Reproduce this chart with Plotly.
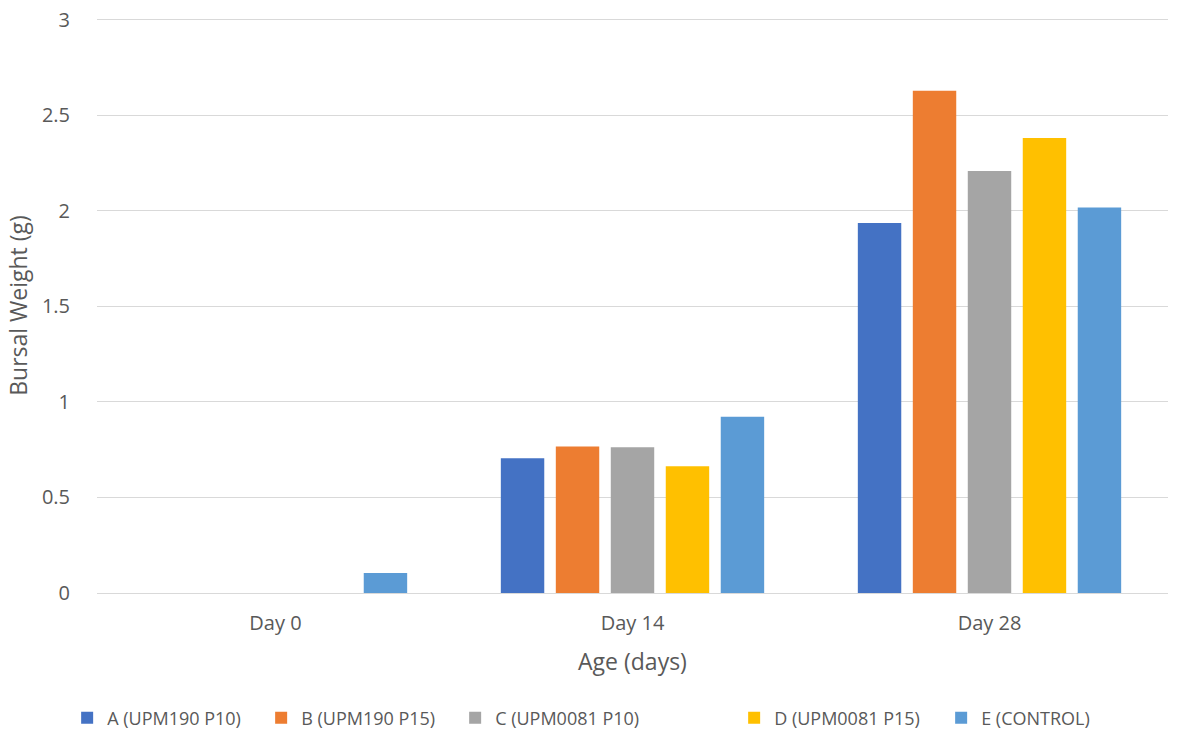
import plotly.graph_objects as go

categories = ["Day 0", "Day 14", "Day 28"]
series_names = ["A (UPM190 P10)", "B (UPM190 P15)", "C (UPM0081 P10)", "D (UPM0081 P15)", "E (CONTROL)"]
a_vals = [0, 0.705, 1.935]
b_vals = [0, 0.767, 2.628]
c_vals = [0, 0.762, 2.207]
d_vals = [0, 0.663, 2.380]
e_vals = [0.104, 0.922, 2.017]
colors = ["#4472C4", "#ED7D31", "#A5A5A5", "#FFC000", "#5B9BD5"]
y_ticks = [0, 0.5, 1, 1.5, 2, 2.5, 3]
y_tick_labels = ["0", "0.5", "1", "1.5", "2", "2.5", "3"]
legend_widths = [149, 149, 234, 162, 130]

all_vals = [a_vals, b_vals, c_vals, d_vals, e_vals]

fig = go.Figure()
for name, vals, col, lw in zip(series_names, all_vals, colors, legend_widths):
    fig.add_trace(go.Bar(x=categories, y=vals, name=name, legendwidth=lw,
                         marker=dict(color=col, line=dict(width=0))))

font_family = "Open Sans, Noto Sans, sans-serif"
grey = "#595959"

fig.update_layout(
    width=1178, height=733,
    paper_bgcolor="white", plot_bgcolor="white",
    margin=dict(l=97, r=10, t=18, b=140),
    barmode="group", bargap=0.23, bargroupgap=0.21,
    font=dict(family=font_family, color=grey, size=18),
    showlegend=True,
    legend=dict(orientation="h", xref="container", x=0.057, xanchor="left",
                yref="container", y=0.0205, yanchor="middle",
                font=dict(size=18, color=grey), itemwidth=30, traceorder="normal"),
    xaxis=dict(
        showgrid=False, showline=True, linecolor="#d9d9d9", linewidth=1,
        ticks="outside", ticklen=12, tickcolor="rgba(0,0,0,0)",
        tickfont=dict(size=20, color=grey), automargin="height",
        title=dict(text="Age (days)", font=dict(size=23, color=grey), standoff=18),
    ),
    yaxis=dict(
        range=[0, 3.008], tickvals=y_ticks, ticktext=y_tick_labels,
        showgrid=True, gridcolor="#d9d9d9", gridwidth=1, zeroline=False,
        ticks="outside", ticklen=22, tickcolor="rgba(0,0,0,0)",
        tickfont=dict(size=20, color=grey), automargin="width",
        title=dict(text="Bursal Weight (g)", font=dict(size=23, color=grey), standoff=7),
    ),
)

fig.write_html("out.html", config={"displayModeBar": False},
               post_script="document.body.style.margin='0';document.body.style.padding='0';")
